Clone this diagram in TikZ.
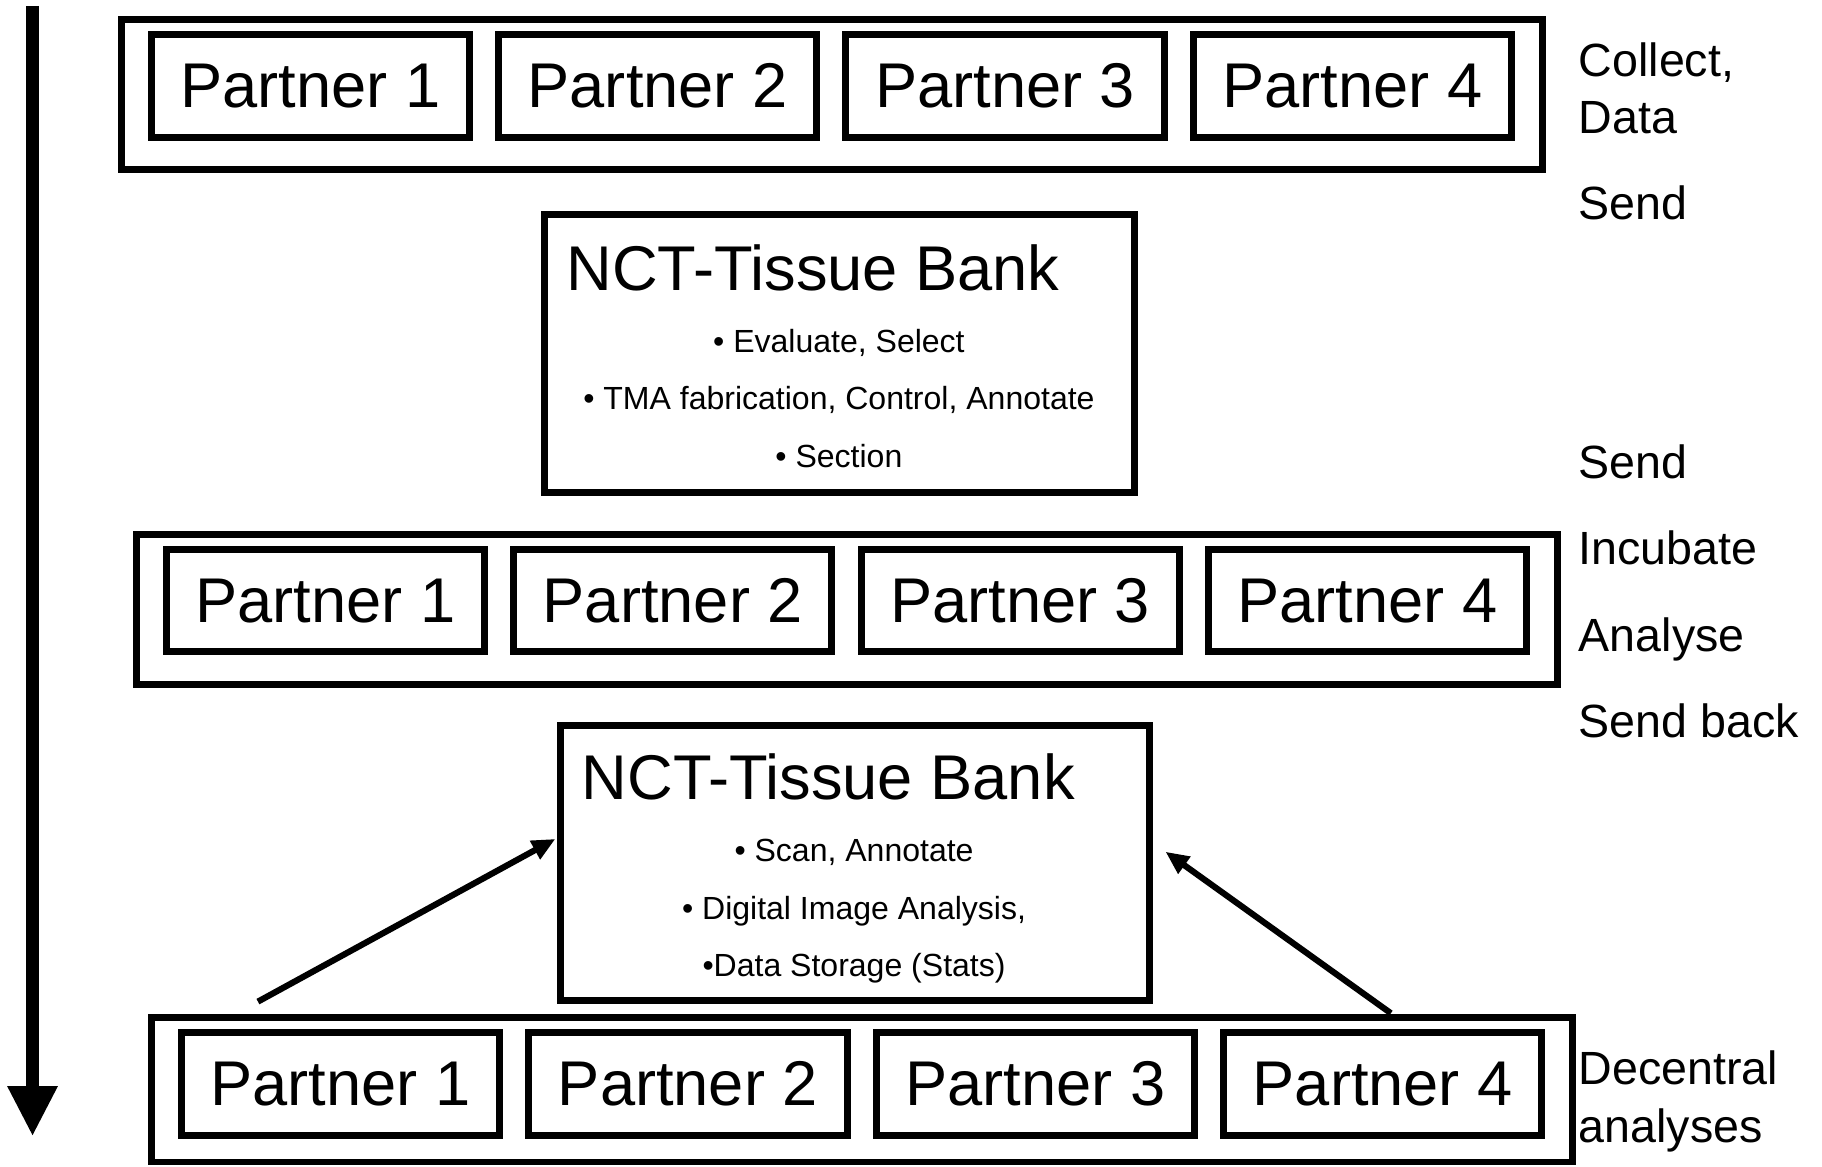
\documentclass[tikz,border=0pt]{standalone}
\usepackage{fontspec}
\setmainfont{Liberation Sans}
\usetikzlibrary{arrows.meta}
\begin{document}
\begin{tikzpicture}[x=0.00995cm,y=-0.00995cm,
  box/.style={draw=black,line width=1.7pt,inner sep=0pt},
  pbox/.style={box,minimum width=2.726cm,minimum height=0.876cm,font=\fontsize{15.4}{18}\selectfont},
  title/.style={font=\fontsize{15.4}{18}\selectfont,inner sep=0pt,anchor=base west},
  side/.style={font=\fontsize{11.35}{14}\selectfont,inner sep=0pt,anchor=base west},
  bul/.style={font=\fontsize{7.8}{9}\selectfont,inner sep=0pt,anchor=base},
  conn/.style={line width=1.5pt,-{Triangle[width=0.17cm,length=0.2cm]}},
  bigarrow/.style={line width=3.1pt,-{Triangle[width=0.4cm,length=0.43cm]}}]
\useasboundingbox (0cm,0cm) rectangle (15.6cm,-9.99cm);

% time arrow
\coordinate (t0) at (28,5);
\coordinate (t1) at (28,978);
\draw[bigarrow] (t0) -- (t1);

% row 1
\node[box,minimum width=12.17cm,minimum height=1.284cm] (r1) at (716,81.5) {};
\node[pbox] (a1) at (267,74) {Partner 1\hspace{0.26cm}};
\node[pbox] (a2) at (566,74) {Partner 2\hspace{0.26cm}};
\node[pbox] (a3) at (865,74) {Partner 3\hspace{0.26cm}};
\node[pbox] (a4) at (1164,74) {Partner 4\hspace{0.26cm}};

% NCT 1
\node[box,minimum width=5.045cm,minimum height=2.378cm] (n1) at (722.5,304.5) {};
\node[title] (n1t) at (487,250) {NCT-Tissue Bank};
\node[bul] (n1a) at (722,303) {• Evaluate, Select};
\node[bul] (n1b) at (722,352) {• TMA fabrication, Control, Annotate};
\node[bul] (n1c) at (722,402) {• Section};

% row 3
\node[box,minimum width=12.17cm,minimum height=1.284cm] (r3) at (729,524.5) {};
\node[pbox] (b1) at (280,517) {Partner 1\hspace{0.26cm}};
\node[pbox] (b2) at (579,517) {Partner 2\hspace{0.26cm}};
\node[pbox] (b3) at (878,517) {Partner 3\hspace{0.26cm}};
\node[pbox] (b4) at (1177,517) {Partner 4\hspace{0.26cm}};

% NCT 2
\node[box,minimum width=5.045cm,minimum height=2.358cm] (n2) at (735.5,742.5) {};
\node[title] (n2t) at (500,688) {NCT-Tissue Bank};
\node[bul] (n2a) at (735,741) {• Scan, Annotate};
\node[bul] (n2b) at (735,791) {• Digital Image Analysis,};
\node[bul] (n2c) at (735,840) {•Data Storage (Stats)};

% row 4
\node[box,minimum width=12.17cm,minimum height=1.234cm] (r4) at (742,938) {};
\node[pbox] (c1) at (293,933) {Partner 1\hspace{0.26cm}};
\node[pbox] (c2) at (592,933) {Partner 2\hspace{0.26cm}};
\node[pbox] (c3) at (891,933) {Partner 3\hspace{0.26cm}};
\node[pbox] (c4) at (1190,933) {Partner 4\hspace{0.26cm}};

% arrows to NCT 2
\coordinate (s1) at (222,862);
\coordinate (s2) at (1197,872);
\coordinate (e1) at (478,722);
\coordinate (e2) at (1003,733);
\draw[conn] (s1) -- (e1);
\draw[conn] (s2) -- (e2);

% side labels
\node[side] (l1) at (1358,66) {Collect,};
\node[side] (l2) at (1358,115) {Data};
\node[side] (l3) at (1358,189) {Send};
\node[side] (l4) at (1358,412) {Send};
\node[side] (l5) at (1358,486) {Incubate};
\node[side] (l6) at (1358,561) {Analyse};
\node[side] (l7) at (1358,635) {Send back};
\node[side] (l8) at (1358,933) {Decentral};
\node[side] (l9) at (1358,983) {analyses};
\end{tikzpicture}
\end{document}
